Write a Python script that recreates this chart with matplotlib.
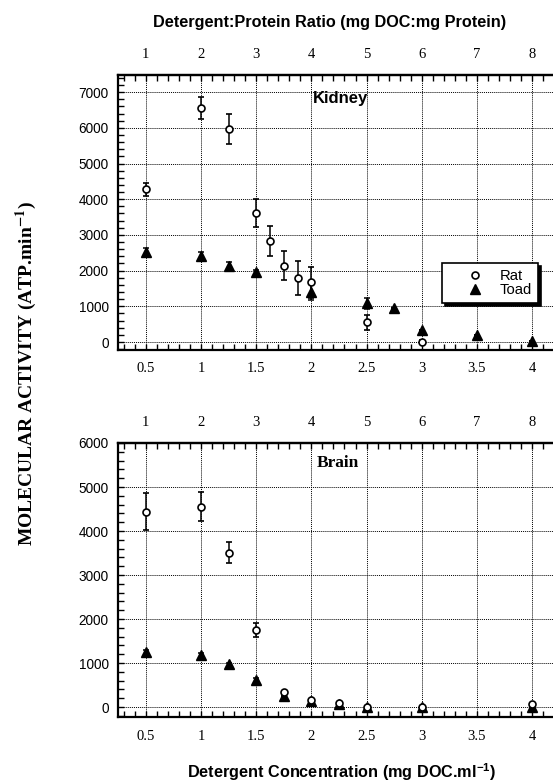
import numpy as np
import matplotlib
matplotlib.use("Agg")
import matplotlib.pyplot as plt
from matplotlib.ticker import MultipleLocator
from matplotlib.lines import Line2D

# Kidney: molecular activity vs detergent concentration
kid_rat_x = [0.5, 1.0, 1.25, 1.5, 1.625, 1.75, 1.875, 2.0, 2.5, 3.0]
kid_rat_y = [4280, 6550, 5970, 3610, 2830, 2140, 1800, 1670, 550, 10]
kid_rat_err = [180, 300, 420, 400, 420, 400, 470, 440, 200, 40]
kid_toad_x = [0.5, 1.0, 1.25, 1.5, 2.0, 2.5, 2.75, 3.0, 3.5, 4.0]
kid_toad_y = [2510, 2420, 2140, 1950, 1400, 1080, 940, 350, 190, 40]
kid_toad_err = [120, 110, 110, 80, 220, 150, 0, 0, 0, 0]

# Brain
br_rat_x = [0.5, 1.0, 1.25, 1.5, 1.75, 2.0, 2.25, 2.5, 3.0, 4.0]
br_rat_y = [4440, 4550, 3510, 1750, 330, 150, 90, 10, 0, 60]
br_rat_err = [420, 330, 230, 170, 0, 0, 0, 0, 0, 0]
br_toad_x = [0.5, 1.0, 1.25, 1.5, 1.75, 2.0, 2.25, 2.5, 3.0, 4.0]
br_toad_y = [1240, 1180, 970, 610, 250, 140, 70, 10, 0, 10]
br_toad_err = [60, 50, 40, 60, 0, 0, 0, 0, 0, 0]

ratio_ticks = [1, 2, 3, 4, 5, 6, 7, 8]

SERIF = "Liberation Serif"
SANS = "Liberation Sans"
plt.rcParams["mathtext.fontset"] = "custom"
plt.rcParams["mathtext.rm"] = "Liberation Sans:bold"
plt.rcParams["mathtext.bf"] = "Liberation Sans:bold"

W, H = 553, 784
fig = plt.figure(figsize=(W / 100, H / 100), dpi=100)

left = 118.3 / W
width = 1 - left + 0.002
ax1 = fig.add_axes([left, 1 - 350 / H, width, 275 / H])
ax2 = fig.add_axes([left, 1 - 717 / H, width, 274 / H])


def style_axes(ax, ylim):
    ax.set_xlim(0.25, 4.2)
    ax.set_ylim(*ylim)
    ax.spines["right"].set_visible(False)
    for s in ["top", "left", "bottom"]:
        ax.spines[s].set_linewidth(1.6)
    ax.xaxis.set_minor_locator(MultipleLocator(0.1))
    ax.yaxis.set_major_locator(MultipleLocator(1000))
    ax.yaxis.set_minor_locator(MultipleLocator(200))
    ax.tick_params(which="both", direction="in", width=1.0, length=4.2)
    ax.tick_params(axis="x", pad=9)
    ax.tick_params(axis="y", pad=7)
    ax.grid(True, which="major", linestyle=(0, (1, 1)), color="black", linewidth=0.7)
    ax.set_axisbelow(True)
    ax.set_xticks([0.5, 1, 1.5, 2, 2.5, 3, 3.5, 4])
    ax.set_xticklabels(["0.5", "1", "1.5", "2", "2.5", "3", "3.5", "4"],
                       family=SERIF, fontsize=10.5)
    for lab in ax.get_yticklabels():
        lab.set_family(SANS)
        lab.set_fontsize(9.8)
    top = ax.secondary_xaxis("top", functions=(lambda x: 2 * x, lambda x: x / 2))
    top.set_xticks(ratio_ticks)
    top.set_xticklabels([str(t) for t in ratio_ticks], family=SERIF, fontsize=10.5)
    top.xaxis.set_minor_locator(MultipleLocator(0.2))
    top.tick_params(which="both", direction="in", width=1.0, length=4.2, pad=10)
    top.spines["top"].set_linewidth(1.6)


def plot_series(ax, rx, ry, re, tx, ty, te):
    ax.errorbar(tx, ty, yerr=te, fmt="^", color="black", ms=6.5, capsize=2.2,
                elinewidth=1.1, capthick=1.1, zorder=3)
    ax.errorbar(rx, ry, yerr=re, fmt="o", mfc="white", mec="black", mew=1.2,
                color="black", ms=5, capsize=2.2, elinewidth=1.1, capthick=1.1,
                zorder=4)


plot_series(ax1, kid_rat_x, kid_rat_y, kid_rat_err, kid_toad_x, kid_toad_y, kid_toad_err)
plot_series(ax2, br_rat_x, br_rat_y, br_rat_err, br_toad_x, br_toad_y, br_toad_err)

style_axes(ax1, (-224, 7480))
style_axes(ax2, (-227, 6000))

ax1.text(2.26, 6835, "Kidney", family=SANS, fontweight="bold", fontsize=12,
         ha="center", va="center")
ax2.text(2.24, 5545, "Brain", family=SERIF, fontweight="bold", fontsize=12.5,
         ha="center", va="center")

handles = [Line2D([], [], ls="none", marker="o", mfc="white", mec="black", mew=1.2,
                  ms=5),
           Line2D([], [], ls="none", marker="^", color="black", ms=6.5)]
leg = ax1.legend(handles, ["Rat", "Toad"], loc="upper left",
                 bbox_to_anchor=(0.743, 0.316), borderaxespad=0, fancybox=False,
                 edgecolor="black", framealpha=1, prop={"family": SANS, "size": 10.7},
                 handletextpad=-0.1, labelspacing=0.0, borderpad=0.4,
                 handlelength=3.6, shadow={"color": "black", "alpha": 1,
                                           "ox": 2.2, "oy": -2.2})
leg.get_frame().set_linewidth(1.2)

fig.text(330 / W, 1 - 23 / H, "Detergent:Protein Ratio (mg DOC:mg Protein)",
         family=SANS, fontweight="bold", fontsize=11.7, ha="center", va="center")
fig.text(342 / W, 1 - 772 / H, r"Detergent Concentration (mg DOC.ml$^{-1}$)",
         family=SANS, fontweight="bold", fontsize=11.7, ha="center", va="center")
fig.text(26 / W, 1 - 373 / H, r"MOLECULAR ACTIVITY (ATP.min$^{\mathbf{-1}}$)",
         family=SERIF, fontweight="bold", fontsize=14, rotation=90,
         ha="center", va="center", math_fontfamily="stix")

fig.savefig("out.png", dpi=100)
